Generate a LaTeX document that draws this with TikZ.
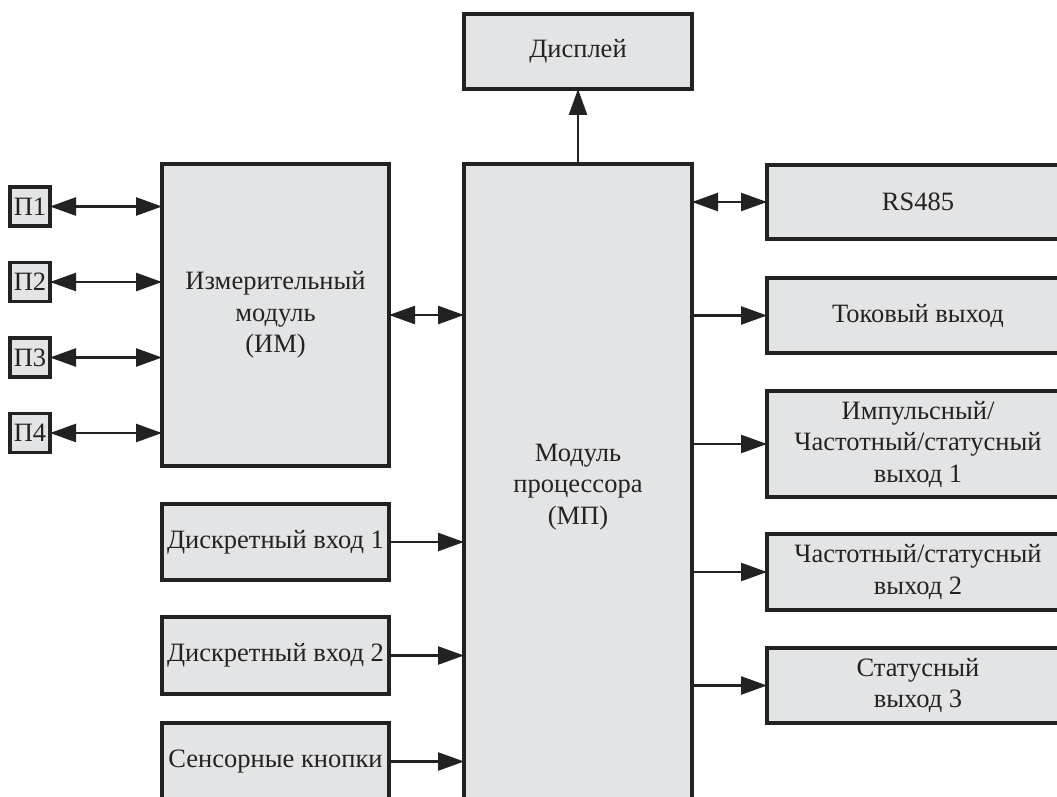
\documentclass[tikz,border=0pt]{standalone}
\usepackage{fontspec}
\setmainfont{Liberation Serif}
\usetikzlibrary{arrows.meta}
\definecolor{boxfill}{HTML}{E3E4E6}
\definecolor{ink}{HTML}{222222}
\begin{document}
\begin{tikzpicture}[x=1pt,y=-1pt,
  box/.style={draw=ink, line width=3.5pt, fill=boxfill, inner sep=0pt, outer sep=0pt,
    text=ink, align=center, font=\fontsize{26.5}{31.5}\selectfont},
  conn/.style={draw=ink, line width=2.5pt, -{Triangle[length=26pt,width=18pt]}},
  bconn/.style={draw=ink, line width=2.5pt, {Triangle[length=26pt,width=18pt]}-{Triangle[length=26pt,width=18pt]}}]
\useasboundingbox (0,0) rectangle (1057,797);
\clip (0,0) rectangle (1057,797);
\fill[white] (0,0) rectangle (1057,797);
% left sensors
\node[box, minimum width=40pt, minimum height=39pt] (p1) at (30,206.5) {П1};
\node[box, minimum width=40pt, minimum height=39pt] (p2) at (30,282) {П2};
\node[box, minimum width=40pt, minimum height=39pt] (p3) at (30,357.5) {П3};
\node[box, minimum width=40pt, minimum height=39pt] (p4) at (30,433) {П4};
% measuring module
\node[box, minimum width=227pt, minimum height=302pt] (im) at (275.5,315) {Измерительный\\модуль\\(ИМ)};
% processor module
\node[box, minimum width=228pt, minimum height=646pt] (mp) at (578,487) {Модуль\\процессора\\(МП)};
\node[box, minimum width=228pt, minimum height=75pt] (disp) at (578,51.5) {Дисплей};
% inputs
\node[box, minimum width=227pt, minimum height=76pt] (d1) at (275.5,542) {Дискретный вход 1};
\node[box, minimum width=227pt, minimum height=77pt] (d2) at (275.5,655.5) {Дискретный вход 2};
\node[box, minimum width=227pt, minimum height=77pt] (sens) at (275.5,761.5) {Сенсорные кнопки};
% outputs
\node[box, minimum width=302pt, minimum height=74pt] (rs) at (918,202) {RS485};
\node[box, minimum width=302pt, minimum height=75pt] (tok) at (918,315.5) {Токовый выход};
\node[box, minimum width=302pt, minimum height=106pt] (imp) at (918,444) {Импульсный/\\Частотный/статусный\\выход 1};
\node[box, minimum width=302pt, minimum height=76pt] (ch2) at (918,572) {Частотный/статусный\\выход 2};
\node[box, minimum width=302pt, minimum height=75pt] (st3) at (918,685.5) {Статусный\\выход 3};
% connectors
\draw[bconn] (p1.east) -- (im.west |- p1.east);
\draw[bconn] (p2.east) -- (im.west |- p2.east);
\draw[bconn] (p3.east) -- (im.west |- p3.east);
\draw[bconn] (p4.east) -- (im.west |- p4.east);
\draw[bconn] (im.east) -- (mp.west |- im.east);
\draw[conn] (mp.north) -- (disp.south);
\draw[bconn] (mp.east |- rs.west) -- (rs.west);
\draw[conn] (mp.east |- tok.west) -- (tok.west);
\draw[conn] (mp.east |- imp.west) -- (imp.west);
\draw[conn] (mp.east |- ch2.west) -- (ch2.west);
\draw[conn] (mp.east |- st3.west) -- (st3.west);
\draw[conn] (d1.east) -- (mp.west |- d1.east);
\draw[conn] (d2.east) -- (mp.west |- d2.east);
\draw[conn] (sens.east) -- (mp.west |- sens.east);
\end{tikzpicture}
\end{document}
